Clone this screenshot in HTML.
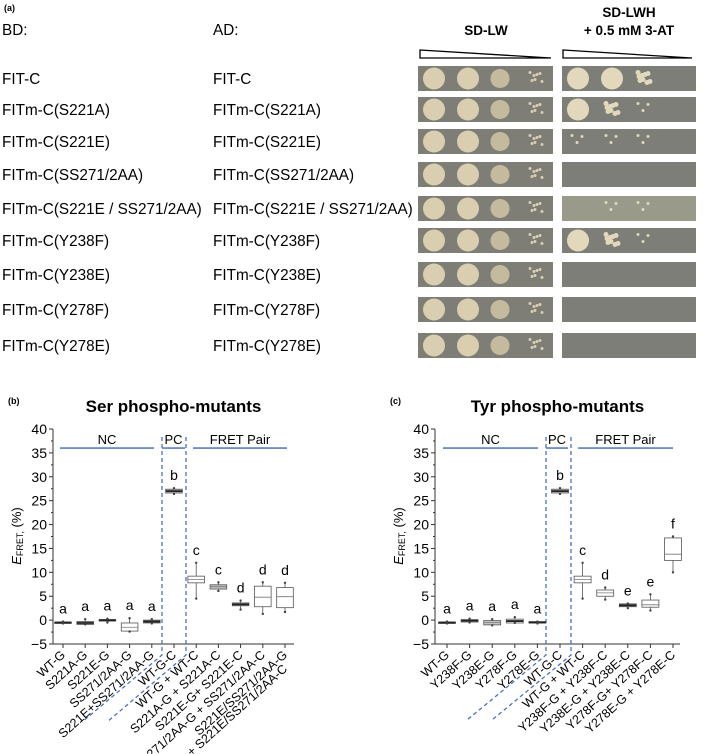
<!DOCTYPE html>
<html><head><meta charset="utf-8"><style>
body{margin:0;background:#fff;}
svg{display:block;font-family:"Liberation Sans",Arial,sans-serif;}
</style></head><body>
<svg id="fig" width="709" height="754" viewBox="0 0 709 754" xmlns="http://www.w3.org/2000/svg">
<g id="panelA">
<text x="4" y="11" font-size="9" font-weight="bold">(a)</text>
<text x="2" y="35" font-size="15.3">BD:</text>
<text x="213" y="35" font-size="15.3">AD:</text>
<text x="486" y="35" font-size="13.5" font-weight="bold" text-anchor="middle">SD-LW</text>
<text x="629" y="17" font-size="13.5" font-weight="bold" text-anchor="middle">SD-LWH</text>
<text x="629" y="35" font-size="13.5" font-weight="bold" text-anchor="middle">+ 0.5 mM 3-AT</text>
<polygon points="420,50 551,58 420,58" fill="#fff" stroke="#000" stroke-width="1.3"/>
<polygon points="563,50 692,58 563,58" fill="#fff" stroke="#000" stroke-width="1.3"/>
</g>
<g id="panelB"></g>
<g id="panelC"></g>
</svg>
<script>
const NS="http://www.w3.org/2000/svg";
function mk(parent,tag,attrs,text){const e=document.createElementNS(NS,tag);for(const k in attrs)e.setAttribute(k,attrs[k]);if(text!==undefined)e.textContent=text;parent.appendChild(e);return e;}

// ---- Panel A: yeast rows ----
const rowLabels=["FIT-C","FITm-C(S221A)","FITm-C(S221E)","FITm-C(SS271/2AA)","FITm-C(S221E / SS271/2AA)","FITm-C(Y238F)","FITm-C(Y238E)","FITm-C(Y278F)","FITm-C(Y278E)"];
const rowTops=[66,97,129,162,196,228,262,297,333];
// growth on SD-LWH per dilution spot (0 none, 1 sparse, 2 colonies, 3 full)
const lwhGrowth=[[3,3,2,0],[3,2,1,0],[1,1,1,0],[0,0,0,0],[0,1,1,0],[3,2,1,0],[0,0,0,0],[0,0,0,0],[0,0,0,0]];
const pA=document.getElementById('panelA');
const spotX=[12,46,78,114];
rowLabels.forEach((lab,i)=>{
  const y=rowTops[i];
  let t=mk(pA,'text',{x:2,y:y+18,'font-size':15.3});t.textContent=lab;
  
  
  t=mk(pA,'text',{x:213,y:y+18,'font-size':15.3});t.textContent=lab;
  
  
  let r=mk(pA,'rect',{x:418,y:y,width:135,height:25,fill:'#7e7e76'});
  
  
  const lw=[3,3,2,1];
  lw.forEach((g,j)=>{
    const cx=418+spotX[j]+4,cy=y+12.5;
    if(g>=2){let c=mk(pA,'circle',{cx:cx,cy:cy,r:g==3?11:9.5,fill:g==3?'#d9cfb0':'#c4bb9e'});
      
      }
    else{for(let k=0;k<7;k++){let c=mk(pA,'circle',{cx:cx-6+((k*5)%13),cy:cy-6+((k*7)%13),r:1.5,fill:'#d9cfb0'});
      
      }}
  });
  r=mk(pA,'rect',{x:562,y:y,width:134,height:25,fill:i==4?'#9a9a8a':'#7e7e78'});
  
  
  lwhGrowth[i].forEach((g,j)=>{
    const cx=562+spotX[j]+4,cy=y+12.5;
    if(g==3){let c=mk(pA,'circle',{cx:cx,cy:cy,r:11,fill:'#e2d8bc'});
      
      }
    else if(g>0){for(let k=0;k<(g==2?9:3);k++){let c=mk(pA,'circle',{cx:cx-6+((k*5)%13),cy:cy-6+((k*7)%13),r:g==2?2.5:1.5,fill:'#e2d8bc'});
      
      }}
  });
});

// ---- Panels B & C: box plots ----
const serCats=["WT-G","S221A-G","S221E-G","SS271/2AA-G","S221E+SS271/2AA-G","WT-G-C","WT-G + WT-C","S221A-G + S221A-C","S221E-G+ S221E-C","SS271/2AA-G + SS271/2AA-C","S221E/SS271/2AA-G"];
const serQ1=[-0.6,-0.9,-0.2,-2.3,-0.6,26.6,7.8,6.5,3.0,2.8,2.6];
const serMed=[-0.5,-0.6,0.0,-1.5,-0.3,27.0,8.5,7.0,3.3,4.8,4.9];
const serQ3=[-0.4,-0.3,0.1,-0.6,0.0,27.4,9.2,7.4,3.6,7.1,6.8];
const serMin=[-0.7,-0.9,-0.5,-2.4,-0.7,26.4,4.5,6.1,2.2,1.3,1.7];
const serMax=[-0.3,0.2,0.3,0.4,0.2,27.6,12.0,7.9,4.1,7.9,7.8];
const serLetters=["a","a","a","a","a","b","c","c","d","d","d"];
const serFill=[1,1,1,0,1,1,0,1,1,0,0];

const tyrCats=["WT-G","Y238F-G","Y238E-G","Y278F-G","Y278E-G","WT-G-C","WT-G + WT-C","Y238F-G + Y238F-C","Y238E-G + Y238E-C","Y278F-G+ Y278F-C","Y278E-G + Y278E-C"];
const tyrQ1=[-0.6,-0.4,-1.0,-0.6,-0.6,26.6,7.8,5.0,2.8,2.7,12.5];
const tyrMed=[-0.5,-0.1,-0.5,-0.2,-0.5,27.0,8.5,5.7,3.1,3.2,13.8];
const tyrQ3=[-0.4,0.1,-0.1,0.2,-0.3,27.4,9.2,6.3,3.4,4.2,17.2];
const tyrMin=[-0.7,-0.5,-1.1,-0.6,-0.7,26.4,4.5,4.3,2.5,2.0,10.0];
const tyrMax=[-0.3,0.3,0.2,0.6,-0.3,27.6,12.0,6.8,3.5,5.4,17.5];
const tyrLetters=["a","a","a","a","a","b","c","d","e","e","f"];
const tyrFill=[1,1,1,0,1,1,0,0,1,0,0];

const yTicks=[-5,0,5,10,15,20,25,30,35,40];

function drawChart(g,cfg){
  const y0=644,y1=429,vmin=-5,vmax=40;
  const Y=v=>y0-(v-vmin)/(vmax-vmin)*(y0-y1);
  const X=i=>cfg.x0+i*cfg.step;
  let e=mk(g,'text',{x:cfg.ax-45,y:404,'font-size':9,'font-weight':'bold'},cfg.tag);
  
  e=mk(g,'text',{x:(cfg.ax+cfg.axEnd)/2,y:412,'font-size':17,'font-weight':'bold','text-anchor':'middle'},cfg.title);
  
  e=mk(g,'text',{transform:`translate(${cfg.ax-32},536) rotate(-90)`,'font-size':13,'text-anchor':'middle'});
  e.innerHTML='<tspan font-style="italic">E</tspan><tspan font-size="9" dy="2">FRET,</tspan><tspan dy="-2"> (%)</tspan>';
  
  e=mk(g,'line',{x1:cfg.ax,y1:y1,x2:cfg.ax,y2:y0,stroke:'#333','stroke-width':1});
  
  e=mk(g,'line',{x1:cfg.ax,y1:y0,x2:cfg.axEnd,y2:y0,stroke:'#333','stroke-width':1});
  
  yTicks.forEach(v=>{
    let t=mk(g,'line',{x1:cfg.ax-4,y1:Y(v),x2:cfg.ax,y2:Y(v),stroke:'#333'});
    
    if(v<40){t=mk(g,'line',{x1:cfg.ax-2,y1:Y(v+2.5),x2:cfg.ax,y2:Y(v+2.5),stroke:'#333'});
    }
    t=mk(g,'text',{x:cfg.ax-6,y:Y(v)+5,'font-size':14,'text-anchor':'end'},v<0?'\u2212'+(-v):String(v));
    
  });
  cfg.groups.forEach(gr=>{
    let l=mk(g,'line',{x1:gr[0],y1:Y(36),x2:gr[1],y2:Y(36),stroke:'#5b7fbf','stroke-width':1.6});
    
    let t=mk(g,'text',{x:(gr[0]+gr[1])/2,y:Y(36)-4,'font-size':13,'text-anchor':'middle'},gr[2]);
    
  });
  cfg.dash.forEach(d=>{
    let l=mk(g,'polyline',{points:`${d[0]},437 ${d[0]},655 ${d[1]},${d[2]}`,fill:'none',stroke:'#4a72c0','stroke-width':1.3,'stroke-dasharray':'4,3'});
    
  });
  cfg.cats.forEach((c,i)=>{
    const x=X(i),w=cfg.step*0.75;
    let t=mk(g,'line',{x1:x,y1:y0,x2:x,y2:y0+4,stroke:'#333'});
    
    let wl=mk(g,'line',{x1:x,y1:Y(cfg.min[i]),x2:x,y2:Y(cfg.max[i]),stroke:'#555','stroke-width':0.8});
    
    const h=Math.max(1.5,Y(cfg.q1[i])-Y(cfg.q3[i]));
    let b=mk(g,'rect',{x:x-w/2,y:Y(cfg.q3[i]),width:w,height:h,fill:cfg.fill[i]?'#c4c4c4':'#fff',stroke:'#555','stroke-width':0.8});
    
    let m=mk(g,'line',{x1:x-w/2,y1:Y(cfg.med[i]),x2:x+w/2,y2:Y(cfg.med[i]),stroke:h<4?'#222':'#777','stroke-width':h<4?1.8:0.8});
    
    [cfg.min[i],cfg.max[i]].forEach(v=>{let p=mk(g,'circle',{cx:x,cy:Y(v),r:1.2,fill:'#444'});
      });
    let L=mk(g,'text',{x:x,y:Y(Math.max(cfg.max[i],cfg.q3[i]))-8,'font-size':14,'text-anchor':'middle'},cfg.letters[i]);
    
    let xl=mk(g,'text',{transform:`translate(${x+3},${y0+12}) rotate(-42)`,'font-size':12.5,'text-anchor':'end'},c);
    
  });
  if(cfg.extra){let xl=mk(g,'text',{transform:`translate(${X(10)+3},${y0+26}) rotate(-42)`,'font-size':12.5,'text-anchor':'end'},cfg.extra);
    }
}
drawChart(document.getElementById('panelB'),{tag:'(b)',title:'Ser phospho-mutants',ax:53,axEnd:294,x0:63,step:22.2,
  cats:serCats,q1:serQ1,med:serMed,q3:serQ3,min:serMin,max:serMax,letters:serLetters,fill:serFill,
  groups:[[60,154,'NC'],[162,185,'PC'],[193,287,'FRET Pair']],dash:[[162,82,722],[186,107,722]],extra:'+ S221E/SS271/2AA-C'});
drawChart(document.getElementById('panelC'),{tag:'(c)',title:'Tyr phospho-mutants',ax:435,axEnd:680,x0:447,step:22.6,
  cats:tyrCats,q1:tyrQ1,med:tyrMed,q3:tyrQ3,min:tyrMin,max:tyrMax,letters:tyrLetters,fill:tyrFill,
  groups:[[443,538,'NC'],[546,568,'PC'],[578,673,'FRET Pair']],dash:[[546,467,720],[571,492,720]]});
</script>
</body></html>
